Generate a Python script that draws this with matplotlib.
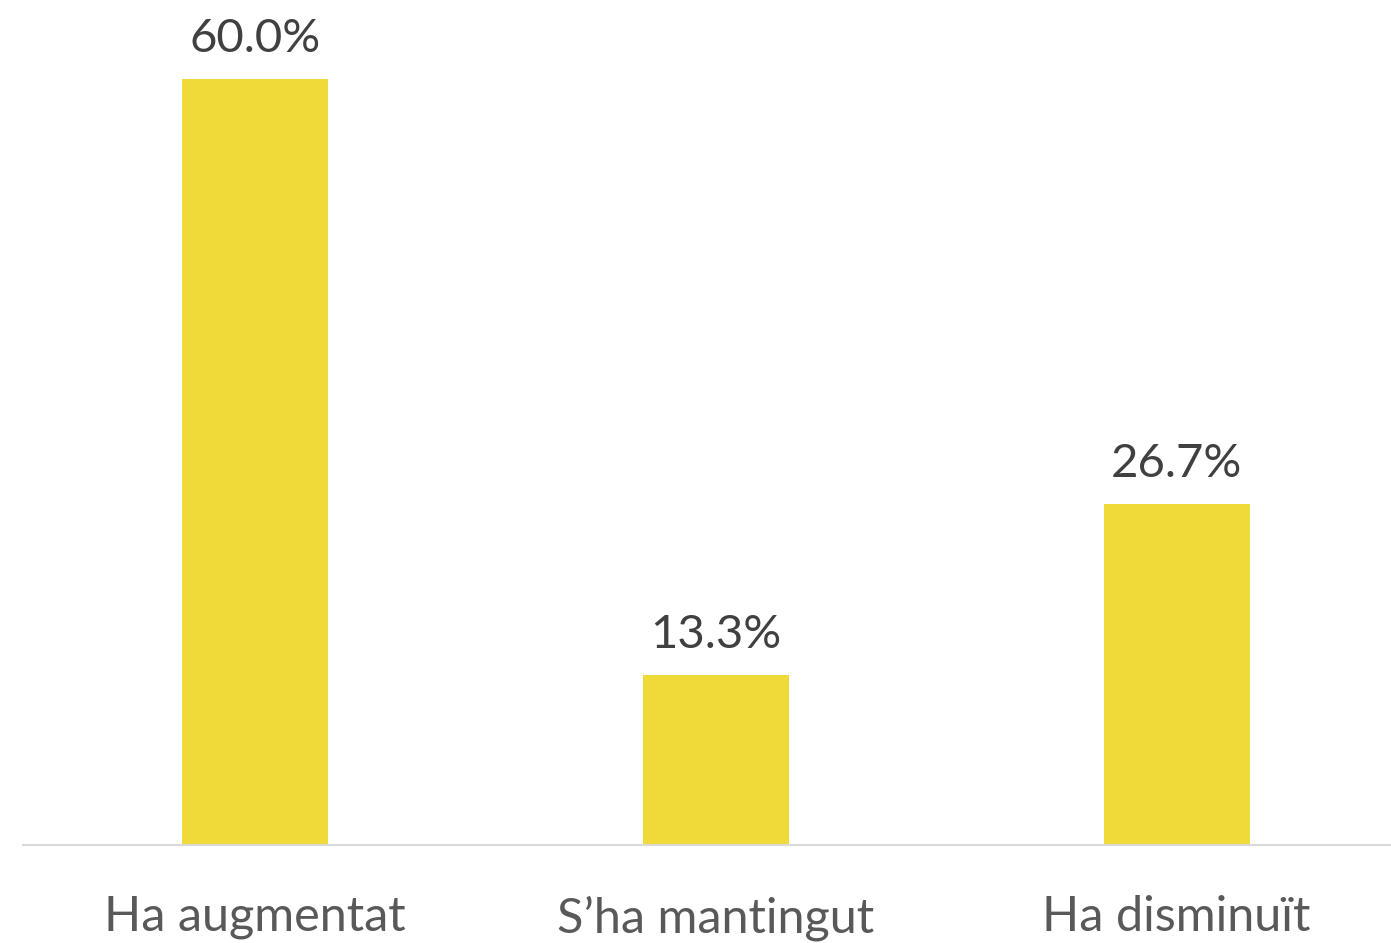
import matplotlib.pyplot as plt

categories = ["Ha augmentat", "S\u2019ha mantingut", "Ha disminu\u00eft"]
values = [60.0, 13.3, 26.7]
labels = ["60.0%", "13.3%", "26.7%"]

plt.rcParams['font.family'] = ['Lato', 'DejaVu Sans']

fig = plt.figure(figsize=(13.91, 9.43), dpi=100)
ax = fig.add_axes([23 / 1391, 98 / 943, 1368 / 1391, 845 / 943])

x = range(len(categories))
bars = ax.bar(x, values, width=0.317, color="#F0DA3A", zorder=2)

for b, lab in zip(bars, labels):
    ax.annotate(lab, (b.get_x() + b.get_width() / 2, b.get_height()),
                xytext=(0, 14), textcoords="offset points",
                ha="center", va="bottom", fontsize=34, color="#404040")

ax.set_xlim(-0.503, 2.465)
ax.set_ylim(0, 66.2)
ax.set_xticks(list(x))
ax.set_xticklabels(categories, fontsize=35, color="#595959")
ax.tick_params(axis="x", length=0, pad=36)
ax.set_yticks([])
for s in ["top", "right", "left"]:
    ax.spines[s].set_visible(False)
ax.spines["bottom"].set_color("#D9D9D9")
ax.spines["bottom"].set_linewidth(1.5)

fig.savefig("out.png", dpi=100)
